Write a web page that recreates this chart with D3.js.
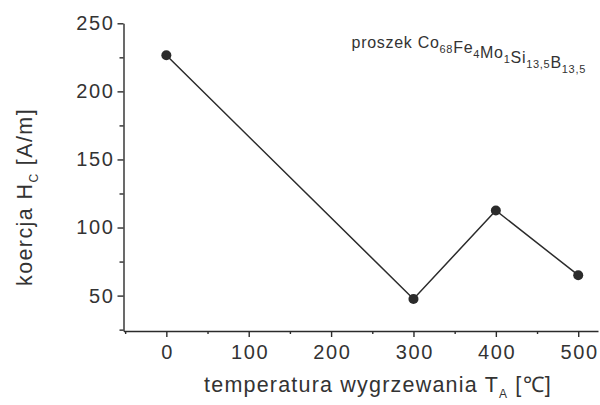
<!DOCTYPE html>
<html>
<head>
<meta charset="utf-8">
<script src="https://cdn.jsdelivr.net/npm/d3@7"></script>
<style>
  body { margin: 0; background: #fff; }
  text { font-family: "Liberation Sans", Arial, sans-serif; fill: #333; }
</style>
</head>
<body>
<svg></svg>
<script>
var WIDTH = 600;
var HEIGHT = 405;

// data
var temps = [0, 300, 400, 500];
var coerc = [226.5, 47.5, 112.5, 65];
var xMajor = [0, 100, 200, 300, 400, 500];
var xMinor = [-50, 50, 150, 250, 350, 450];
var yMajor = [50, 100, 150, 200, 250];
var yMinor = [25, 75, 125, 175, 225];

var svg = d3.select('svg')
  .attr('width', WIDTH)
  .attr('height', HEIGHT);

var xScale = d3.scaleLinear().domain([-52, 524]).range([123.5, 598]);
var yScale = d3.scaleLinear().domain([24, 250]).range([331, 23.3]);

var ink = '#2b2b2b';

// x axis
var gx = svg.append('g').attr('transform', 'translate(0,' + yScale(24) + ')');
gx.call(d3.axisBottom(xScale).tickValues(xMajor).tickSize(6).tickPadding(8).tickSizeOuter(0));
gx.append('g').call(d3.axisBottom(xScale).tickValues(xMinor).tickSize(3).tickFormat('').tickSizeOuter(0))
  .select('.domain').remove();

// y axis
var gy = svg.append('g').attr('transform', 'translate(' + xScale(-52) + ',0)');
gy.call(d3.axisLeft(yScale).tickValues(yMajor).tickSize(6).tickPadding(3).tickSizeOuter(0));
gy.append('g').call(d3.axisLeft(yScale).tickValues(yMinor).tickSize(4).tickFormat('').tickSizeOuter(0))
  .select('.domain').remove();

svg.selectAll('.domain, .tick line').attr('stroke', ink).attr('stroke-width', 1.4);
svg.selectAll('.tick text')
  .style('font-family', '"Liberation Sans", Arial, sans-serif')
  .style('font-size', '20px')
  .style('letter-spacing', '1.6px')
  .attr('fill', '#333');
gx.selectAll('.tick text').attr('dx', '0.8px');

// line + markers
var pts = temps.map(function(t, i){ return [t, coerc[i]]; });
var line = d3.line()
  .x(function(d){ return xScale(d[0]); })
  .y(function(d){ return yScale(d[1]); });

svg.append('path')
  .datum(pts)
  .attr('d', line)
  .attr('fill', 'none')
  .attr('stroke', ink)
  .attr('stroke-width', 1.5);

svg.selectAll('circle')
  .data(pts)
  .enter()
  .append('circle')
  .attr('cx', function(d){ return xScale(d[0]); })
  .attr('cy', function(d){ return yScale(d[1]); })
  .attr('r', 5)
  .attr('fill', ink);

// x title
var xt = svg.append('text')
  .attr('x', 378)
  .attr('y', 392)
  .attr('text-anchor', 'middle')
  .style('font-size', '21.5px')
  .style('letter-spacing', '1.2px');
xt.append('tspan').text('temperatura wygrzewania T');
xt.append('tspan').attr('dy', 6).style('font-size', '12px').text('A');
xt.append('tspan').attr('dy', -6).text(' [\u2103]');

// y title
var yt = svg.append('text')
  .attr('transform', 'translate(32,197) rotate(-90)')
  .attr('text-anchor', 'middle')
  .style('font-size', '21.5px')
  .style('letter-spacing', '1.4px');
yt.append('tspan').text('koercja H');
yt.append('tspan').attr('dy', 6).style('font-size', '12px').text('C');
yt.append('tspan').attr('dy', -6).text(' [A/m]');

// annotation
var parts = [['proszek Co', '68'], ['Fe', '4'], ['Mo', '1'], ['Si', '13,5'], ['B', '13,5']];
var an = svg.append('text')
  .attr('x', 586)
  .attr('y', 48)
  .attr('text-anchor', 'end')
  .style('font-size', '16px')
  .style('letter-spacing', '0.7px');
parts.forEach(function(p){
  an.append('tspan').text(p[0]);
  an.append('tspan').attr('dy', 5).style('font-size', '11px').text(p[1]);
  an.append('tspan').attr('dy', -5).text('');
});
</script>
</body>
</html>
